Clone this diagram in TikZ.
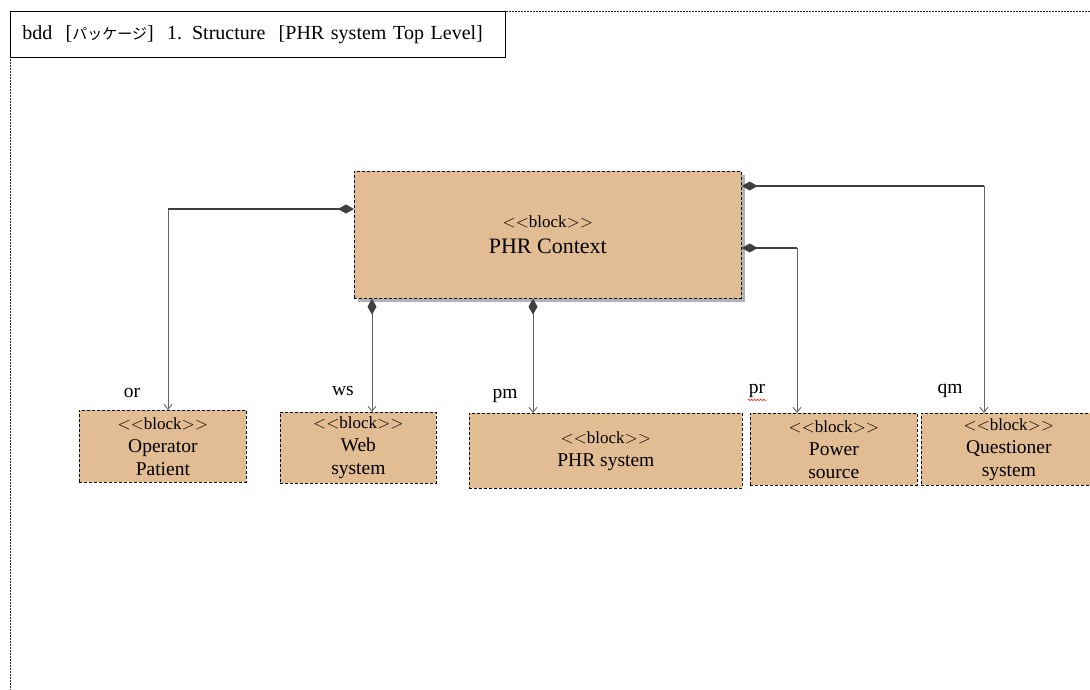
\documentclass[tikz,border=0pt]{standalone}
\usepackage{fontspec}
\setmainfont{Liberation Serif}
\newfontfamily\jpfont{Noto Sans CJK JP}
\usetikzlibrary{arrows.meta,decorations.pathmorphing,shadows,calc}
\definecolor{blocktan}{RGB}{226,188,146}
\definecolor{linedark}{RGB}{64,64,64}
\definecolor{linegray}{RGB}{100,100,100}
\newcommand{\stereo}{{\fontsize{17}{23}\selectfont $<<$block$>>$}}
\begin{document}
\begin{tikzpicture}[x=1pt,y=-1pt,
  blockbox/.style={draw=black, densely dashed, line width=0.7pt, fill=blocktan,
    align=center, inner sep=0pt, anchor=north west,
    font=\fontsize{19.5}{23}\selectfont},
  frameline/.style={draw=black!85, dash pattern=on 2pt off 1pt, line width=0.7pt},
  hconn/.style={draw=linedark, line width=1.8pt},
  vconn/.style={draw=linegray, line width=0.9pt},
  comp/.style={{Diamond[length=16pt,width=9pt,fill=linedark,color=linedark]}-},
  part/.style={-{Straight Barb[length=5pt,width=8pt,color=linegray]}},
  comppart/.style={{Diamond[length=16pt,width=9pt,fill=linedark,color=linedark]}-{Straight Barb[length=5pt,width=8pt,color=linegray]}},
  rolelabel/.style={font=\fontsize{19.5}{22}\selectfont, inner sep=0pt}
]
\useasboundingbox (0,0) rectangle (1090,689);

% diagram frame and its title tab
\draw[frameline] (10,11) rectangle (1100,700);
\node[draw=black, line width=0.8pt, fill=white, anchor=north west,
      minimum width=495pt, minimum height=46pt, text width=471pt,
      inner xsep=12pt, align=left, font=\fontsize{20}{22}\selectfont] (title) at (10,11)
  {bdd\ \ [{\jpfont\fontsize{15}{18}\selectfont パッケージ}]\ \ 1. Structure\ \ [PHR system Top Level]};

% blocks
\node[blockbox, minimum width=387pt, minimum height=127pt,
      drop shadow={shadow xshift=3.5pt, shadow yshift=-3.5pt, fill=black!30, opacity=1},
      font=\fontsize{22}{26}\selectfont] (ctx) at (354,171)
  {\stereo\\PHR Context};
\node[blockbox, minimum width=167pt, minimum height=72pt] (op) at (79,410)
  {\stereo\\Operator\\Patient};
\node[blockbox, minimum width=156pt, minimum height=71pt] (web) at (280,412)
  {\stereo\\Web\\system};
\node[blockbox, minimum width=273pt, minimum height=75pt] (phr) at (469,413)
  {\stereo\\PHR system};
\node[blockbox, minimum width=167pt, minimum height=72pt] (pow) at (750,413)
  {\stereo\\Power\\source};
\node[blockbox, minimum width=175pt, minimum height=72pt] (que) at (921,413)
  {\stereo\\Questioner\\system};

% bend points of the routed associations
\coordinate (orbend) at (168,209);
\coordinate (prbend) at (797,248);
\coordinate (qmbend) at (984,186);
\coordinate (wsx) at (372,0);
\coordinate (pmx) at (533,0);

% composite associations from PHR Context to its parts
\draw[hconn, comp] (ctx.west |- orbend) -- (orbend);
\draw[vconn, part] (orbend) -- (op.north -| orbend);

\draw[vconn, comppart] (ctx.south -| wsx) -- (web.north -| wsx);
\draw[vconn, comppart] (ctx.south -| pmx) -- (phr.north -| pmx);

\draw[hconn, comp] (ctx.east |- prbend) -- (prbend);
\draw[vconn, part] (prbend) -- (pow.north -| prbend);

\draw[hconn, comp] (ctx.east |- qmbend) -- (qmbend);
\draw[vconn, part] (qmbend) -- (que.north -| qmbend);

% role names
\node[rolelabel] (orl) at (132,393) {or};
\node[rolelabel] (wsl) at (343,391) {ws};
\node[rolelabel] (pml) at (505,396) {pm};
\node[rolelabel] (prl) at (757,391) {pr};
\node[rolelabel] (qml) at (950,391) {qm};
\draw[red, line width=0.5pt, decorate,
      decoration={snake, amplitude=0.8pt, segment length=3pt}]
  ($(prl.south west)+(-1,2)$) -- ($(prl.south east)+(1,2)$);
\end{tikzpicture}
\end{document}
